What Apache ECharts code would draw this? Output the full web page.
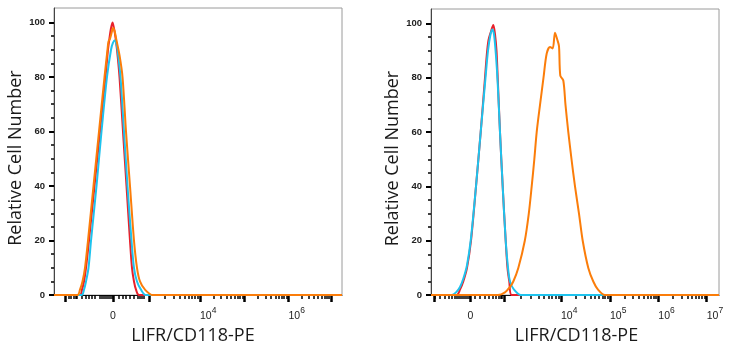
<!DOCTYPE html>
<html><head><meta charset="utf-8">
<script src="https://cdn.jsdelivr.net/npm/echarts@6/dist/echarts.min.js"></script>
<style>html,body{margin:0;padding:0;background:#fff}#c{width:729px;height:350px}</style>
</head><body><div id="c"></div>
<script>
// ---- text ----
const xTitle = 'LIFR/CD118-PE';
const yTitle = 'Relative Cell Number';
// ---- y axis (percent of max) ----
const yMajorTicks = [0, 20, 40, 60, 80, 100];
const yMinorTicks = [5, 10, 15, 25, 30, 35, 45, 50, 55, 65, 70, 75, 85, 90, 95];
const yMax = 105.3;
// ---- x axis: display channel (0..1024), biexponential scale ----
const chanMax = 1024;
// left panel
const leftMajorTicks = [40.9, 209.8, 339.6, 519.1, 677.3, 833.8, 984.9];
const leftDecadeTicks = [339.6, 519.1, 677.3, 833.8, 984.9];
const leftNearZeroMinor = [50.8, 60.4, 68.6, 75.7, 80.7, 98.5, 112.7, 124.4, 134, 143.3, 163.6, 170.7, 177.8, 184.9, 192, 199.1, 204.4, 228.6, 242.8, 256, 267.7, 282, 296.2, 305.8, 311.8, 317.5];
const leftZeroLabel = [209.8];
const leftExpLabelPos = [519.1, 833.8];
const leftExpLabelPow = ['4', '6'];
// right panel
const rightMajorTicks = [10.7, 140.4, 259.6, 462.2, 636.4, 808.2, 980.3];
const rightDecadeTicks = [259.6, 462.2, 636.4, 808.2, 980.3];
const rightNearZeroMinor = [14.2, 32, 47.3, 61.5, 73.6, 82.8, 91.4, 97.1, 106.7, 113.8, 120.9, 128, 135.1, 156.4, 174.2, 192, 206.2, 219.4, 230, 239.3, 246.4, 252.4];
const rightZeroLabel = [140.4];
const rightExpLabelPos = [462.2, 636.4, 808.2, 980.3];
const rightExpLabelPow = ['4', '5', '6', '7'];

// ---- histogram series [channel, % of max] ----
const leftRed = [[0,0],[92.4,0],[99.6,2],[106.7,5],[113.8,10],[124.4,20],[144,40],[163.6,60],[183.1,80],[192,90],[197,94],[202,97.5],[208,100],[213,98],[218,95],[224,90],[232.9,80],[245.3,60],[257.8,40],[270.2,20],[277.3,10],[284.4,5],[291.6,2],[302.2,0],[1024,0]];
const leftBlue = [[0,0],[97.8,0],[106.7,2],[113.8,5],[122.7,10],[131.6,20],[151.1,40],[168.9,60],[188.4,80],[202.7,90],[209.5,92.5],[216.9,93.5],[222,92],[225.8,90],[236.4,80],[248.9,60],[261.3,40],[275.6,20],[284.4,10],[295.1,5],[309.3,2],[327.1,0],[1024,0]];
const leftOrange = [[0,0],[83.6,0],[92.4,2],[101.3,5],[110.2,10],[120.9,20],[140.4,40],[160,60],[179.6,80],[190.2,90],[193.8,93],[199,94],[204.4,96],[209.8,98],[215,97],[221,94],[232.9,88],[243.6,80],[256,60],[270.2,40],[284.4,20],[295.1,10],[305.8,5],[323.6,2],[352,0],[1024,0]];
const rightRed = [[0,0],[91.4,0],[103.1,2],[114.8,5],[128,10],[142.2,20],[160,40],[176.7,60],[192,80],[198,88],[204.4,93.8],[213.3,97],[221.5,99.4],[227.6,96],[232.9,90],[237.2,80],[245.3,60],[254.9,40],[265.6,20],[272,10],[278.4,5],[286.9,0],[1024,0]];
const rightBlue = [[0,0],[73.6,0],[88.9,1],[103.1,3],[114.8,6],[128,11],[142.2,21],[160,40],[176.7,60],[193.8,80],[202.7,90],[211.6,96],[218,97.8],[224,96],[231.1,88],[237.2,78],[245.3,60],[254.9,40],[265.6,20],[273.8,10],[280.9,5],[295.1,2],[320,0],[1024,0]];
const rightOrange = [[0,0],[238.2,0],[263.1,1],[280.9,3],[292.6,5],[310.4,10],[333.5,20],[347.7,30],[358,40],[367.4,50],[375.8,60],[387.6,70],[400,80],[411.4,88.9],[423.1,91.3],[432.7,90.8],[440.9,96.6],[449.1,94],[455.1,91.6],[459.7,80.8],[470.4,79],[478.2,70],[488.2,60],[499.6,50],[512,40],[526.2,30],[539.4,20],[559.3,10],[577.1,5],[593.8,2],[618.7,0],[1024,0]];

const colors = {red: '#e8202a', blue: '#1ec3ee', orange: '#fb7d0a'};

function logMinors(decades) {
  const out = [];
  for (let i = 0; i < decades.length - 1; i++) {
    const a = decades[i], b = decades[i + 1];
    for (let k = 2; k <= 9; k++) out.push(a + (b - a) * Math.log10(k));
  }
  return out;
}

const tickFont = 'Liberation Sans, Arial, sans-serif';
const titleFont = '"Open Sans", "Noto Sans", sans-serif';

function panel(gi, cfg) {
  const grid = {left: cfg.left, top: cfg.top, width: 288, height: cfg.height, show: true, borderColor: '#9a9a9a', borderWidth: 1, backgroundColor: '#fff'};
  const common = {type: 'value', gridIndex: gi, min: 0, max: chanMax, position: 'bottom', splitLine: {show: false}};
  const xAxes = [
    Object.assign({}, common, {
      axisLine: {show: true, lineStyle: {color: '#111', width: 1}},
      axisTick: {show: true, length: 7, lineStyle: {color: '#000', width: 2.5}, customValues: cfg.major},
      axisLabel: {show: true, customValues: cfg.zero, formatter: () => '0', margin: 16, color: '#222', fontSize: 10.5, fontFamily: tickFont},
      name: xTitle, nameLocation: 'middle', nameGap: 25,
      nameTextStyle: {fontSize: 18, color: '#1a1a1a', fontFamily: titleFont, padding: cfg.titlePad}
    }),
    Object.assign({}, common, {
      axisLine: {show: false},
      axisTick: {show: true, length: 4, lineStyle: {color: '#000', width: 1.5}, customValues: cfg.minor},
      axisLabel: {show: false}
    }),
    Object.assign({}, common, {
      axisLine: {show: false},
      axisTick: {show: false},
      axisLabel: {show: true, customValues: cfg.expPos, align: 'left', margin: 11,
        formatter: v => {
          let best = 0;
          cfg.expPos.forEach((p, i) => { if (Math.abs(p - v) < Math.abs(cfg.expPos[best] - v)) best = i; });
          return '{b|10}{s|' + cfg.expPow[best] + '}';
        },
        rich: {
          b: {fontSize: 10.5, color: '#222', fontFamily: tickFont, lineHeight: 16, verticalAlign: 'bottom'},
          s: {fontSize: 8.5, color: '#222', fontFamily: tickFont, lineHeight: 9, verticalAlign: 'top'}
        }
      }
    })
  ];
  const ycommon = {type: 'value', gridIndex: gi, min: 0, max: yMax, position: 'left', splitLine: {show: false}, interval: 20};
  const yAxes = [
    Object.assign({}, ycommon, {
      axisLine: {show: true, lineStyle: {color: '#444', width: 1}},
      axisTick: {show: true, length: 5, lineStyle: {color: '#000', width: 2}, customValues: yMajorTicks},
      axisLabel: {show: true, customValues: yMajorTicks, margin: 9, color: '#222', fontSize: 9.5, fontWeight: 'bold', fontFamily: tickFont},
      name: yTitle, nameLocation: 'middle', nameGap: 28, nameRotate: 90,
      nameTextStyle: {fontSize: 18, color: '#1a1a1a', fontFamily: titleFont, padding: [0, 13, 0, 0]}
    }),
    Object.assign({}, ycommon, {
      axisLine: {show: false},
      axisTick: {show: true, length: 3, lineStyle: {color: '#000', width: 1.5}, customValues: yMinorTicks},
      axisLabel: {show: false}
    })
  ];
  return {grid, xAxes, yAxes};
}

const P0 = panel(0, {left: 54, top: 8, height: 288, titlePad: [0, 10, 0, 0], major: leftMajorTicks, minor: leftNearZeroMinor.concat(logMinors(leftDecadeTicks)), zero: leftZeroLabel, expPos: leftExpLabelPos, expPow: leftExpLabelPow});
const P1 = panel(1, {left: 431, top: 9, height: 287, titlePad: [0, 0, 0, 3], major: rightMajorTicks, minor: rightNearZeroMinor.concat(logMinors(rightDecadeTicks)), zero: rightZeroLabel, expPos: rightExpLabelPos, expPow: rightExpLabelPow});

function line(data, color, xi, yi, z) {
  return {type: 'line', data, xAxisIndex: xi, yAxisIndex: yi, showSymbol: false, smooth: 0.3, z,
    lineStyle: {color, width: 2}, itemStyle: {color}, animation: false, clip: true};
}

const option = {
  animation: false,
  backgroundColor: '#fff',
  grid: [P0.grid, P1.grid],
  xAxis: P0.xAxes.concat(P1.xAxes),
  yAxis: P0.yAxes.concat(P1.yAxes),
  series: [
    line(leftRed, colors.red, 0, 0, 2),
    line(leftBlue, colors.blue, 0, 0, 3),
    line(leftOrange, colors.orange, 0, 0, 4),
    line(rightRed, colors.red, 3, 2, 2),
    line(rightBlue, colors.blue, 3, 2, 3),
    line(rightOrange, colors.orange, 3, 2, 4)
  ]
};
const chart = echarts.init(document.getElementById('c'), null, {renderer: 'canvas'});
chart.setOption(option);
</script></body></html>
